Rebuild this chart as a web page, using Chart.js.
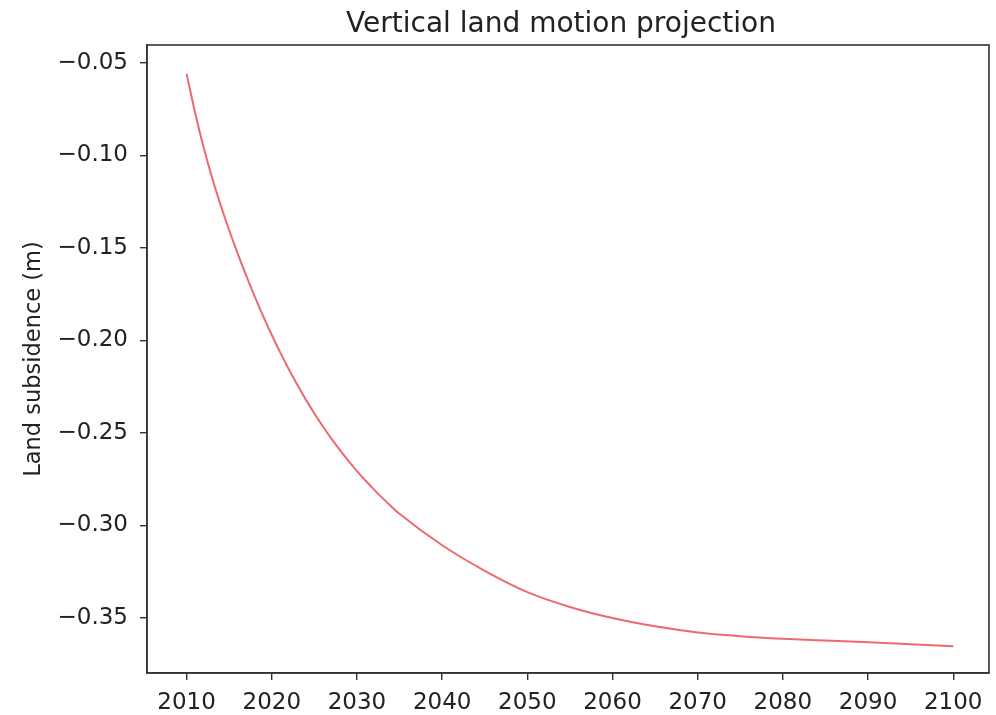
<!DOCTYPE html>
<html>
<head>
<meta charset="utf-8">
<title>Vertical land motion projection</title>
<script src="https://cdn.jsdelivr.net/npm/chart.js@4.4.1/dist/chart.umd.min.js"></script>
<style>
    html, body { margin: 0; padding: 0; background: #fff; }
    canvas { display: block; }
</style>
</head>
<body>
<canvas id="vlmChart" width="996" height="715"></canvas>
<script>
/* ================= DATA ================= */
const years = [2010, 2011, 2012, 2013, 2014, 2015, 2016, 2017, 2018, 2019, 2020, 2021, 2022, 2023,
               2024, 2025, 2026, 2027, 2028, 2029, 2030, 2031, 2032, 2033, 2034, 2035,
               2040, 2045, 2050, 2055, 2060, 2065, 2070, 2075, 2080, 2085, 2090, 2095, 2100];
const subsidence = [-0.056, -0.077, -0.0958, -0.1123, -0.127, -0.1405, -0.1531, -0.165, -0.1763, -0.187,
                    -0.1971, -0.2066, -0.2156, -0.224, -0.232, -0.2395, -0.2465, -0.2531, -0.2593, -0.2651,
                    -0.2706, -0.2757, -0.2806, -0.2852, -0.2896, -0.2937,
                    -0.3107, -0.3245, -0.336, -0.344, -0.35, -0.3545, -0.3578, -0.3598, -0.3612,
                    -0.3622, -0.3631, -0.3642, -0.3653];
const xTicks = [2010, 2020, 2030, 2040, 2050, 2060, 2070, 2080, 2090, 2100];
const yTicks = [-0.35, -0.30, -0.25, -0.20, -0.15, -0.10, -0.05];

const titleText = "Vertical land motion projection";
const axisColor = "#333";
const font = "'DejaVu Sans', sans-serif";

/* ================= PLUGINS ================= */
// matplotlib style box around the axes plus a title centred on it
const frameAndTitle = {
    id: "frameAndTitle",
    afterDraw(chart) {
        const { ctx, chartArea: a } = chart;
        ctx.save();
        ctx.strokeStyle = axisColor;
        ctx.lineWidth = 1.6;
        ctx.strokeRect(a.left, a.top, a.right - a.left, a.bottom - a.top);
        ctx.fillStyle = "#222";
        ctx.font = "28px " + font;
        ctx.textAlign = "center";
        ctx.textBaseline = "alphabetic";
        ctx.fillText(titleText, (a.left + a.right) / 2 - 7, 32);
        ctx.restore();
    }
};

/* ================= CHART ================= */
const canvas = document.getElementById("vlmChart");

new Chart(canvas.getContext("2d"), {
    type: "line",
    data: {
        datasets: [{
            data: years.map((y, i) => ({ x: y, y: subsidence[i] })),
            borderColor: "#ec6a6e",
            borderWidth: 2,
            pointRadius: 0,
            cubicInterpolationMode: "monotone",
            fill: false
        }]
    },
    options: {
        responsive: false,
        animation: false,
        layout: { padding: { left: 0, right: 7, top: 45, bottom: 0 } },
        plugins: {
            legend: { display: false },
            title: { display: false },
            tooltip: { enabled: false }
        },
        scales: {
            x: {
                type: "linear",
                min: 2005.35,
                max: 2104.2,
                afterBuildTicks: s => { s.ticks = xTicks.map(v => ({ value: v })); },
                afterFit: s => { s.height = 42; },
                grid: { drawOnChartArea: false, drawTicks: true, tickLength: 7, color: axisColor, lineWidth: 1.4 },
                border: { display: true, color: axisColor, width: 1.6 },
                ticks: {
                    color: "#222",
                    padding: 9,
                    maxRotation: 0,
                    autoSkip: false,
                    font: { family: font, size: 23 },
                    callback: v => String(v)
                }
            },
            y: {
                type: "linear",
                min: -0.3797,
                max: -0.0404,
                afterBuildTicks: s => { s.ticks = yTicks.map(v => ({ value: v })); },
                afterFit: s => { s.width = 147; },
                grid: { drawOnChartArea: false, drawTicks: true, tickLength: 7, color: axisColor, lineWidth: 1.4 },
                border: { display: true, color: axisColor, width: 1.6 },
                title: {
                    display: true,
                    text: "Land subsidence (m)",
                    color: "#222",
                    padding: { top: 21, bottom: 0 },
                    font: { family: font, size: 22.5 }
                },
                ticks: {
                    color: "#222",
                    padding: 12,
                    autoSkip: false,
                    font: { family: font, size: 23 },
                    callback: v => (v < 0 ? "\u2212" : "") + Math.abs(v).toFixed(2)
                }
            }
        }
    },
    plugins: [frameAndTitle]
});
</script>
</body>
</html>
